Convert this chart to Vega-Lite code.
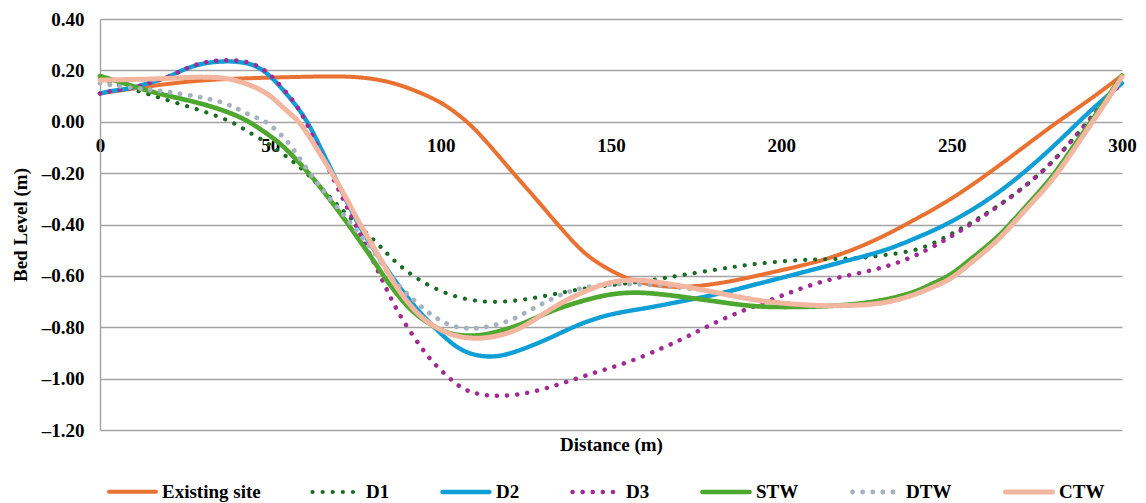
{
  "$schema": "https://vega.github.io/schema/vega-lite/v6.json",
  "width": 1022,
  "height": 411,
  "autosize": {"type": "none"},
  "padding": {"left": 100, "top": 19, "right": 24, "bottom": 73},
  "background": "white",
  "config": {
    "view": {"stroke": null},
    "font": "Liberation Serif"
  },
  "data": {"values": [
{"s":"Existing site","x":0,"y":0.11},{"s":"Existing site","x":10,"y":0.13},{"s":"Existing site","x":20,"y":0.148},{"s":"Existing site","x":30,"y":0.162},{"s":"Existing site","x":40,"y":0.168},{"s":"Existing site","x":50,"y":0.172},{"s":"Existing site","x":60,"y":0.175},{"s":"Existing site","x":70,"y":0.178},{"s":"Existing site","x":78,"y":0.172},{"s":"Existing site","x":85,"y":0.156},{"s":"Existing site","x":92,"y":0.125},{"s":"Existing site","x":100,"y":0.078},{"s":"Existing site","x":105,"y":0.03},{"s":"Existing site","x":110,"y":-0.025},{"s":"Existing site","x":117.5,"y":-0.14},{"s":"Existing site","x":121.3,"y":-0.2},{"s":"Existing site","x":128,"y":-0.3},{"s":"Existing site","x":134,"y":-0.395},{"s":"Existing site","x":141,"y":-0.5},{"s":"Existing site","x":146,"y":-0.55},{"s":"Existing site","x":152.7,"y":-0.6},{"s":"Existing site","x":158.6,"y":-0.627},{"s":"Existing site","x":165,"y":-0.642},{"s":"Existing site","x":172,"y":-0.645},{"s":"Existing site","x":182,"y":-0.63},{"s":"Existing site","x":191.8,"y":-0.603},{"s":"Existing site","x":201,"y":-0.575},{"s":"Existing site","x":211,"y":-0.545},{"s":"Existing site","x":221,"y":-0.5},{"s":"Existing site","x":231,"y":-0.44},{"s":"Existing site","x":240,"y":-0.375},{"s":"Existing site","x":249.6,"y":-0.305},{"s":"Existing site","x":261,"y":-0.2},{"s":"Existing site","x":271,"y":-0.1},{"s":"Existing site","x":281,"y":0.0},{"s":"Existing site","x":290,"y":0.08},{"s":"Existing site","x":300,"y":0.18},
{"s":"D1","x":0,"y":0.165},{"s":"D1","x":10,"y":0.125},{"s":"D1","x":20,"y":0.083},{"s":"D1","x":30,"y":0.043},{"s":"D1","x":39,"y":0.0},{"s":"D1","x":42.6,"y":-0.033},{"s":"D1","x":49,"y":-0.08},{"s":"D1","x":55.3,"y":-0.14},{"s":"D1","x":60,"y":-0.19},{"s":"D1","x":66.6,"y":-0.28},{"s":"D1","x":72.4,"y":-0.363},{"s":"D1","x":81.3,"y":-0.47},{"s":"D1","x":85.7,"y":-0.535},{"s":"D1","x":92.5,"y":-0.61},{"s":"D1","x":101.8,"y":-0.674},{"s":"D1","x":111.6,"y":-0.704},{"s":"D1","x":121.3,"y":-0.7},{"s":"D1","x":131,"y":-0.678},{"s":"D1","x":141,"y":-0.65},{"s":"D1","x":150.7,"y":-0.635},{"s":"D1","x":160.5,"y":-0.62},{"s":"D1","x":169.4,"y":-0.6},{"s":"D1","x":182,"y":-0.573},{"s":"D1","x":191,"y":-0.555},{"s":"D1","x":201.7,"y":-0.541},{"s":"D1","x":211,"y":-0.535},{"s":"D1","x":221,"y":-0.534},{"s":"D1","x":230,"y":-0.52},{"s":"D1","x":241,"y":-0.5},{"s":"D1","x":249.6,"y":-0.44},{"s":"D1","x":264,"y":-0.33},{"s":"D1","x":279,"y":-0.175},{"s":"D1","x":289.8,"y":0.0},{"s":"D1","x":300,"y":0.16},
{"s":"D2","x":0,"y":0.11},{"s":"D2","x":3,"y":0.12},{"s":"D2","x":9.5,"y":0.13},{"s":"D2","x":14,"y":0.15},{"s":"D2","x":17.5,"y":0.162},{"s":"D2","x":21,"y":0.18},{"s":"D2","x":24,"y":0.2},{"s":"D2","x":27,"y":0.215},{"s":"D2","x":30,"y":0.226},{"s":"D2","x":33,"y":0.232},{"s":"D2","x":36,"y":0.235},{"s":"D2","x":39,"y":0.235},{"s":"D2","x":42,"y":0.231},{"s":"D2","x":45,"y":0.222},{"s":"D2","x":48,"y":0.2},{"s":"D2","x":51,"y":0.165},{"s":"D2","x":54,"y":0.12},{"s":"D2","x":57.5,"y":0.065},{"s":"D2","x":61,"y":0.0},{"s":"D2","x":64.7,"y":-0.1},{"s":"D2","x":68.4,"y":-0.2},{"s":"D2","x":72,"y":-0.3},{"s":"D2","x":75.8,"y":-0.4},{"s":"D2","x":80,"y":-0.49},{"s":"D2","x":84,"y":-0.57},{"s":"D2","x":92,"y":-0.72},{"s":"D2","x":101.8,"y":-0.85},{"s":"D2","x":106.6,"y":-0.895},{"s":"D2","x":111.6,"y":-0.914},{"s":"D2","x":116.5,"y":-0.915},{"s":"D2","x":121.3,"y":-0.9},{"s":"D2","x":131,"y":-0.85},{"s":"D2","x":141,"y":-0.784},{"s":"D2","x":150.7,"y":-0.745},{"s":"D2","x":160.5,"y":-0.726},{"s":"D2","x":170.3,"y":-0.7},{"s":"D2","x":182,"y":-0.67},{"s":"D2","x":191.8,"y":-0.635},{"s":"D2","x":201,"y":-0.605},{"s":"D2","x":211,"y":-0.57},{"s":"D2","x":221,"y":-0.535},{"s":"D2","x":231,"y":-0.5},{"s":"D2","x":240,"y":-0.45},{"s":"D2","x":249.6,"y":-0.395},{"s":"D2","x":264,"y":-0.28},{"s":"D2","x":279,"y":-0.11},{"s":"D2","x":289.8,"y":0.034},{"s":"D2","x":300,"y":0.15},
{"s":"D3","x":0,"y":0.11},{"s":"D3","x":3,"y":0.12},{"s":"D3","x":9.5,"y":0.13},{"s":"D3","x":14,"y":0.15},{"s":"D3","x":17.5,"y":0.162},{"s":"D3","x":21,"y":0.18},{"s":"D3","x":24,"y":0.2},{"s":"D3","x":27,"y":0.217},{"s":"D3","x":30,"y":0.23},{"s":"D3","x":33,"y":0.236},{"s":"D3","x":36,"y":0.24},{"s":"D3","x":39,"y":0.24},{"s":"D3","x":42,"y":0.236},{"s":"D3","x":45,"y":0.226},{"s":"D3","x":48,"y":0.205},{"s":"D3","x":51,"y":0.17},{"s":"D3","x":54,"y":0.125},{"s":"D3","x":57.5,"y":0.07},{"s":"D3","x":60.5,"y":0.0},{"s":"D3","x":64,"y":-0.1},{"s":"D3","x":67.7,"y":-0.2},{"s":"D3","x":71.3,"y":-0.3},{"s":"D3","x":75,"y":-0.4},{"s":"D3","x":79,"y":-0.51},{"s":"D3","x":83,"y":-0.62},{"s":"D3","x":87,"y":-0.733},{"s":"D3","x":92,"y":-0.837},{"s":"D3","x":96.9,"y":-0.927},{"s":"D3","x":101.8,"y":-0.99},{"s":"D3","x":106.6,"y":-1.044},{"s":"D3","x":111.6,"y":-1.063},{"s":"D3","x":117.5,"y":-1.07},{"s":"D3","x":126.3,"y":-1.057},{"s":"D3","x":136,"y":-1.017},{"s":"D3","x":146,"y":-0.973},{"s":"D3","x":155.6,"y":-0.935},{"s":"D3","x":165.3,"y":-0.88},{"s":"D3","x":172,"y":-0.84},{"s":"D3","x":182,"y":-0.77},{"s":"D3","x":196.7,"y":-0.694},{"s":"D3","x":211,"y":-0.622},{"s":"D3","x":221,"y":-0.595},{"s":"D3","x":231,"y":-0.565},{"s":"D3","x":240,"y":-0.52},{"s":"D3","x":249.6,"y":-0.45},{"s":"D3","x":264,"y":-0.33},{"s":"D3","x":279,"y":-0.175},{"s":"D3","x":289.8,"y":0.0},{"s":"D3","x":300,"y":0.155},
{"s":"STW","x":0,"y":0.178},{"s":"STW","x":7,"y":0.15},{"s":"STW","x":14.7,"y":0.117},{"s":"STW","x":22,"y":0.095},{"s":"STW","x":29.4,"y":0.072},{"s":"STW","x":35,"y":0.05},{"s":"STW","x":41,"y":0.02},{"s":"STW","x":45,"y":-0.01},{"s":"STW","x":51,"y":-0.064},{"s":"STW","x":55,"y":-0.11},{"s":"STW","x":60.7,"y":-0.19},{"s":"STW","x":65,"y":-0.26},{"s":"STW","x":70.5,"y":-0.355},{"s":"STW","x":75,"y":-0.44},{"s":"STW","x":80.2,"y":-0.538},{"s":"STW","x":83.2,"y":-0.6},{"s":"STW","x":87,"y":-0.67},{"s":"STW","x":92,"y":-0.745},{"s":"STW","x":97,"y":-0.79},{"s":"STW","x":101.8,"y":-0.823},{"s":"STW","x":106,"y":-0.833},{"s":"STW","x":111.6,"y":-0.833},{"s":"STW","x":116,"y":-0.82},{"s":"STW","x":121.3,"y":-0.8},{"s":"STW","x":126,"y":-0.775},{"s":"STW","x":131,"y":-0.745},{"s":"STW","x":136,"y":-0.72},{"s":"STW","x":141,"y":-0.7},{"s":"STW","x":146,"y":-0.682},{"s":"STW","x":150.7,"y":-0.67},{"s":"STW","x":155,"y":-0.665},{"s":"STW","x":160.5,"y":-0.665},{"s":"STW","x":170.3,"y":-0.68},{"s":"STW","x":181,"y":-0.7},{"s":"STW","x":191.8,"y":-0.72},{"s":"STW","x":201,"y":-0.722},{"s":"STW","x":211,"y":-0.72},{"s":"STW","x":221,"y":-0.712},{"s":"STW","x":231,"y":-0.694},{"s":"STW","x":240,"y":-0.66},{"s":"STW","x":244.6,"y":-0.628},{"s":"STW","x":249.6,"y":-0.6},{"s":"STW","x":256,"y":-0.53},{"s":"STW","x":264,"y":-0.447},{"s":"STW","x":271,"y":-0.34},{"s":"STW","x":279,"y":-0.227},{"s":"STW","x":285,"y":-0.11},{"s":"STW","x":289.8,"y":-0.02},{"s":"STW","x":295,"y":0.08},{"s":"STW","x":300,"y":0.18},
{"s":"DTW","x":0,"y":0.15},{"s":"DTW","x":7,"y":0.135},{"s":"DTW","x":14.7,"y":0.125},{"s":"DTW","x":19.6,"y":0.117},{"s":"DTW","x":29.4,"y":0.097},{"s":"DTW","x":35,"y":0.08},{"s":"DTW","x":39,"y":0.06},{"s":"DTW","x":41,"y":0.045},{"s":"DTW","x":45,"y":0.02},{"s":"DTW","x":49,"y":0.0},{"s":"DTW","x":51,"y":-0.025},{"s":"DTW","x":54,"y":-0.06},{"s":"DTW","x":57,"y":-0.11},{"s":"DTW","x":61,"y":-0.19},{"s":"DTW","x":65,"y":-0.26},{"s":"DTW","x":70.5,"y":-0.344},{"s":"DTW","x":75,"y":-0.42},{"s":"DTW","x":80.2,"y":-0.5},{"s":"DTW","x":83,"y":-0.56},{"s":"DTW","x":87,"y":-0.63},{"s":"DTW","x":92,"y":-0.694},{"s":"DTW","x":96.9,"y":-0.75},{"s":"DTW","x":101.8,"y":-0.79},{"s":"DTW","x":106,"y":-0.803},{"s":"DTW","x":109.6,"y":-0.806},{"s":"DTW","x":113,"y":-0.8},{"s":"DTW","x":116.5,"y":-0.79},{"s":"DTW","x":121.3,"y":-0.77},{"s":"DTW","x":126.3,"y":-0.733},{"s":"DTW","x":131,"y":-0.7},{"s":"DTW","x":136,"y":-0.668},{"s":"DTW","x":141,"y":-0.648},{"s":"DTW","x":146,"y":-0.635},{"s":"DTW","x":155.6,"y":-0.63},{"s":"DTW","x":165.3,"y":-0.638},{"s":"DTW","x":172,"y":-0.648},{"s":"DTW","x":182,"y":-0.665},{"s":"DTW","x":191.8,"y":-0.694},{"s":"DTW","x":201,"y":-0.708},{"s":"DTW","x":211,"y":-0.717},{"s":"DTW","x":221,"y":-0.715},{"s":"DTW","x":231,"y":-0.707},{"s":"DTW","x":240,"y":-0.67},{"s":"DTW","x":244.6,"y":-0.642},{"s":"DTW","x":249.6,"y":-0.616},{"s":"DTW","x":256,"y":-0.545},{"s":"DTW","x":264,"y":-0.46},{"s":"DTW","x":271,"y":-0.35},{"s":"DTW","x":279,"y":-0.24},{"s":"DTW","x":285,"y":-0.125},{"s":"DTW","x":289.8,"y":-0.03},{"s":"DTW","x":295,"y":0.07},{"s":"DTW","x":300,"y":0.175},
{"s":"CTW","x":0,"y":0.162},{"s":"CTW","x":7,"y":0.164},{"s":"CTW","x":14.7,"y":0.166},{"s":"CTW","x":22,"y":0.17},{"s":"CTW","x":29.4,"y":0.175},{"s":"CTW","x":35,"y":0.172},{"s":"CTW","x":39,"y":0.165},{"s":"CTW","x":45,"y":0.14},{"s":"CTW","x":49,"y":0.11},{"s":"CTW","x":51,"y":0.09},{"s":"CTW","x":55,"y":0.04},{"s":"CTW","x":58.7,"y":0.0},{"s":"CTW","x":63,"y":-0.09},{"s":"CTW","x":68.1,"y":-0.2},{"s":"CTW","x":72,"y":-0.29},{"s":"CTW","x":76.3,"y":-0.4},{"s":"CTW","x":80,"y":-0.48},{"s":"CTW","x":84.3,"y":-0.58},{"s":"CTW","x":87,"y":-0.645},{"s":"CTW","x":92,"y":-0.733},{"s":"CTW","x":96.9,"y":-0.79},{"s":"CTW","x":101.8,"y":-0.823},{"s":"CTW","x":106,"y":-0.84},{"s":"CTW","x":111.6,"y":-0.845},{"s":"CTW","x":116.5,"y":-0.835},{"s":"CTW","x":121.3,"y":-0.817},{"s":"CTW","x":126,"y":-0.785},{"s":"CTW","x":131,"y":-0.74},{"s":"CTW","x":136,"y":-0.7},{"s":"CTW","x":141,"y":-0.668},{"s":"CTW","x":146,"y":-0.64},{"s":"CTW","x":150.7,"y":-0.622},{"s":"CTW","x":155.6,"y":-0.615},{"s":"CTW","x":160.5,"y":-0.618},{"s":"CTW","x":165.3,"y":-0.628},{"s":"CTW","x":172,"y":-0.642},{"s":"CTW","x":182,"y":-0.668},{"s":"CTW","x":191.8,"y":-0.694},{"s":"CTW","x":201,"y":-0.708},{"s":"CTW","x":211,"y":-0.717},{"s":"CTW","x":221,"y":-0.716},{"s":"CTW","x":231,"y":-0.707},{"s":"CTW","x":240,"y":-0.67},{"s":"CTW","x":244.6,"y":-0.642},{"s":"CTW","x":249.6,"y":-0.616},{"s":"CTW","x":256,"y":-0.545},{"s":"CTW","x":264,"y":-0.46},{"s":"CTW","x":271,"y":-0.35},{"s":"CTW","x":279,"y":-0.24},{"s":"CTW","x":285,"y":-0.125},{"s":"CTW","x":289.8,"y":-0.03},{"s":"CTW","x":295,"y":0.07},{"s":"CTW","x":300,"y":0.175}
  ]},
  "mark": {"type": "line", "interpolate": "basis", "strokeCap": "round", "clip": false},
  "encoding": {
    "x": {
      "field": "x", "type": "quantitative",
      "scale": {"domain": [0, 300], "nice": false, "zero": false},
      "axis": {
        "values": [0, 50, 100, 150, 200, 250, 300],
        "offset": -308,
        "grid": false, "domain": false, "ticks": false,
        "labelFont": "Liberation Serif", "labelFontWeight": "bold", "labelFontSize": 19, "labelColor": "#000000",
        "labelPadding": 14, "labelFlush": false,
        "title": "Distance (m)",
        "titleFont": "Liberation Serif", "titleFontWeight": "bold", "titleFontSize": 19, "titleColor": "#000000",
        "titleBaseline": "middle", "titleY": 322, "titleX": 511
      }
    },
    "y": {
      "field": "y", "type": "quantitative",
      "scale": {"domain": [-1.2, 0.4], "nice": false, "zero": false},
      "axis": {
        "values": [-1.2, -1.0, -0.8, -0.6, -0.4, -0.2, 0, 0.2, 0.4],
        "labelExpr": "datum.value < -0.0001 ? '–' + format(-datum.value, '.2f') : format(datum.value, '.2f')",
        "grid": true, "gridColor": "#a3a3a3", "gridWidth": 1.4,
        "domain": true, "domainColor": "#a3a3a3", "domainWidth": 1.4,
        "ticks": false,
        "labelFont": "Liberation Serif", "labelFontWeight": "bold", "labelFontSize": 19, "labelColor": "#000000",
        "labelPadding": 16,
        "title": "Bed Level (m)",
        "titleFont": "Liberation Serif", "titleFontWeight": "bold", "titleFontSize": 19, "titleColor": "#000000",
        "titlePadding": 11
      }
    },
    "color": {
      "field": "s", "type": "nominal",
      "scale": {
        "domain": ["Existing site", "D1", "D2", "D3", "STW", "DTW", "CTW"],
        "range": ["#E97132", "#196B24", "#0F9ED5", "#A02B93", "#4EA72E", "#A7B2C0", "#F2B6A1"]
      },
      "legend": {
        "title": null, "orient": "none", "legendX": 7, "legendY": 447,
        "direction": "horizontal", "columnPadding": 43,
        "symbolType": "stroke", "symbolSize": 2209, "symbolStrokeWidth": 5,
        "labelFont": "Liberation Serif", "labelFontWeight": "bold", "labelFontSize": 19, "labelColor": "#000000",
        "labelOffset": 4, "labelLimit": 300,
        "encode": {"symbols": {"update": {"strokeCap": {"value": "round"}}}}
      }
    },
    "strokeDash": {
      "field": "s", "type": "nominal",
      "scale": {
        "domain": ["Existing site", "D1", "D2", "D3", "STW", "DTW", "CTW"],
        "range": [[1, 0], [0.1, 10], [1, 0], [0.1, 10], [1, 0], [0.1, 10], [1, 0]]
      },
      "legend": {
        "title": null, "orient": "none", "legendX": 7, "legendY": 447,
        "direction": "horizontal", "columnPadding": 43,
        "symbolType": "stroke", "symbolSize": 2209, "symbolStrokeWidth": 5,
        "labelFont": "Liberation Serif", "labelFontWeight": "bold", "labelFontSize": 19, "labelColor": "#000000",
        "labelOffset": 4, "labelLimit": 300,
        "encode": {"symbols": {"update": {"strokeCap": {"value": "round"}}}}
      }
    },
    "strokeWidth": {
      "field": "s", "type": "ordinal",
      "scale": {
        "domain": ["Existing site", "D1", "D2", "D3", "STW", "DTW", "CTW"],
        "range": [4, 5, 5, 5, 4, 5, 6]
      },
      "legend": null
    }
  }
}
